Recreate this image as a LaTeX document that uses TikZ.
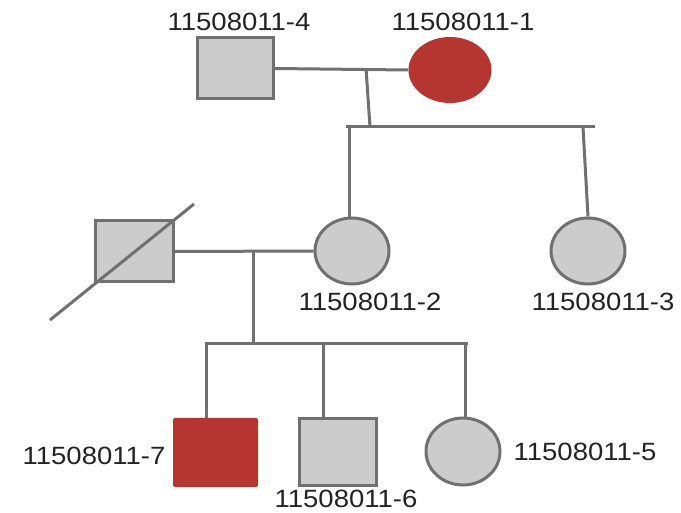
\documentclass[tikz,border=0pt]{standalone}
\usepackage{fontspec}
\newfontfamily\lblfont[FakeStretch=1.1]{Liberation Sans}
\usetikzlibrary{shapes.geometric}
\definecolor{gfill}{HTML}{CCCCCC}
\definecolor{gline}{HTML}{707070}
\definecolor{rfill}{HTML}{B53631}
\definecolor{tcol}{HTML}{222222}
\tikzset{
  x=1pt, y=-1pt,
  conn/.style={draw=gline, line width=3pt},
  sqbox/.style={rectangle, draw=gline, line width=3pt, fill=gfill, inner sep=0pt},
  ellbox/.style={ellipse, draw=gline, line width=3pt, fill=gfill, inner sep=0pt},
  redsq/.style={rectangle, fill=rfill, rounded corners=2pt, inner sep=0pt},
  redell/.style={ellipse, fill=rfill, inner sep=0pt},
  lbl/.style={font=\lblfont\fontsize{25}{30}\selectfont, text=tcol, inner sep=0pt, text depth=0pt}
}
\begin{document}
\begin{tikzpicture}
\useasboundingbox (0,0) rectangle (681,513);
% Generation I
\node[sqbox, minimum width=76pt, minimum height=61pt] (p4) at (235,68.5) {};
\node[redell, minimum width=83pt, minimum height=66pt] (p1) at (450,70) {};
% Generation II
\node[sqbox, minimum width=78pt, minimum height=61pt] (dec) at (134,251.5) {};
\node[ellbox, minimum width=74pt, minimum height=66pt] (p2) at (352,251) {};
\node[ellbox, minimum width=74pt, minimum height=66pt] (p3) at (588,251) {};
% Generation III
\node[redsq, minimum width=85pt, minimum height=69pt] (p7) at (215.5,452.5) {};
\node[sqbox, minimum width=77pt, minimum height=66pt] (p6) at (338,452) {};
\node[ellbox, minimum width=74pt, minimum height=67pt] (p5) at (463,451.5) {};
% labels
\node[lbl] (l4) at (239,22) {11508011-4};
\node[lbl] (l1) at (463,22) {11508011-1};
\node[lbl] (l2) at (370,302) {11508011-2};
\node[lbl] (l3) at (603,302) {11508011-3};
\node[lbl] (l7) at (94,456) {11508011-7};
\node[lbl] (l6) at (346,499) {11508011-6};
\node[lbl] (l5) at (585,452) {11508011-5};
% coordinates
\coordinate (m1) at (366,68);
\coordinate (s1) at (370,127);
\coordinate (sl1) at (346,127);
\coordinate (sr1) at (595,127);
\coordinate (d2) at (349,127);
\coordinate (e2) at (349,218);
\coordinate (d3) at (583,127);
\coordinate (m2) at (253,251);
\coordinate (s2) at (253,344);
\coordinate (sl2) at (205,344);
\coordinate (sr2) at (468,344);
\coordinate (d7) at (206,344);
\coordinate (e7) at (206,418);
\coordinate (d6) at (323,344);
\coordinate (e6) at (323,419);
\coordinate (d5) at (465,344);
\coordinate (e5) at (465,418);
\coordinate (x1) at (50,320);
\coordinate (x2) at (194,204);
% connectors gen I
\draw[conn] (p4.east) -- (p1.west);
\draw[conn] (m1) -- (s1);
\draw[conn] (sl1) -- (sr1);
\draw[conn] (d2) -- (e2);
\draw[conn] (d3) -- (p3.north);
% gen II
\draw[conn] (dec.east) -- (p2.west);
\draw[conn] (m2) -- (s2);
\draw[conn] (sl2) -- (sr2);
\draw[conn] (d7) -- (e7);
\draw[conn] (d6) -- (e6);
\draw[conn] (d5) -- (e5);
% deceased mark
\draw[conn] (x1) -- (x2);
\end{tikzpicture}
\end{document}
